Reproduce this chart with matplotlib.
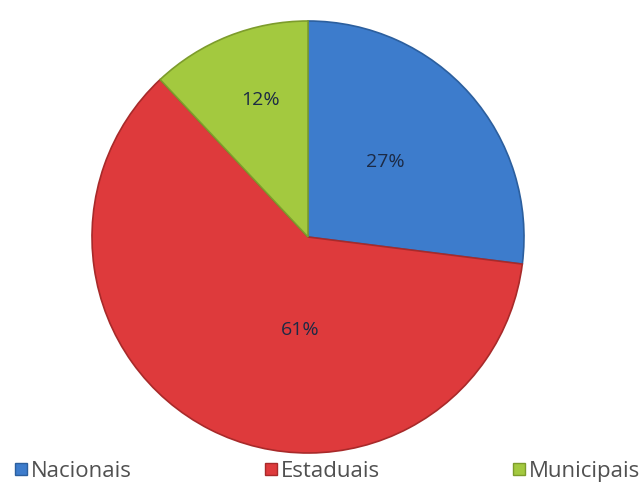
import numpy as np
import matplotlib.pyplot as plt
from matplotlib.lines import Line2D

categories = ["Nacionais", "Estaduais", "Municipais"]
values = [27, 61, 12]
pct_labels = ["27%", "61%", "12%"]

colors = ["#3d7ccc", "#de3a3c", "#a3c93f"]
edges = ["#2c5f9e", "#a82a2a", "#7d9c2c"]
# label positions in pie units (Excel-like placement)
label_r = [0.50, 0.43, 0.67]
label_ang = [44, -95, 109]

fig = plt.figure(figsize=(6.41, 4.86), dpi=100)
ax = fig.add_axes([(308 - 216) / 641, (486 - 237 - 216) / 486, 432 / 641, 432 / 486])

wedges, _ = ax.pie(values, colors=colors, startangle=90, counterclock=False,
                   radius=1, wedgeprops=dict(linewidth=1.2))
for w, ec in zip(wedges, edges):
    w.set_edgecolor(ec)

for lab, r, a in zip(pct_labels, label_r, label_ang):
    t = np.deg2rad(a)
    ax.text(r * np.cos(t), r * np.sin(t), lab, ha="center", va="center",
            fontsize=14, color="#1c2a45", family="Open Sans")

ax.set_xlim(-1, 1)
ax.set_ylim(-1, 1)
ax.set_aspect("equal")
ax.axis("off")

handles = [Line2D([], [], marker="s", linestyle="none", markersize=9,
                  markerfacecolor=c, markeredgecolor=e) for c, e in zip(colors, edges)]
leg = fig.legend(handles, categories, loc="center", bbox_to_anchor=(0.51, 15 / 486), ncol=3,
                 frameon=False, handletextpad=0.1, columnspacing=5.9, handlelength=0.7,
                 prop=dict(family="Open Sans", size=16))
for t in leg.get_texts():
    t.set_color("#505050")

fig.savefig("out.png", dpi=100)
